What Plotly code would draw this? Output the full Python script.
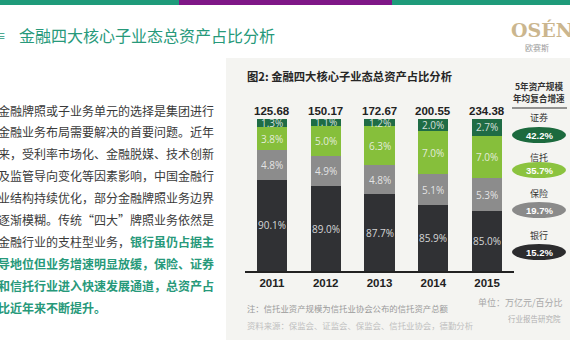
import plotly.graph_objects as go

# ---------------- data ----------------
years = ["2011", "2012", "2013", "2014", "2015"]
bank = [90.1, 89.0, 87.7, 85.9, 85.0]          # 银行
insurance = [4.8, 4.9, 4.8, 5.1, 5.3]          # 保险
trust = [3.8, 5.0, 6.3, 7.0, 7.0]              # 信托
securities = [1.3, 1.1, 1.2, 2.0, 2.7]         # 证券
totals = [125.68, 150.17, 172.67, 200.55, 234.38]  # 万亿元
cagr_names = ["证券", "信托", "保险", "银行"]
cagr_values = [42.2, 35.7, 19.7, 15.2]

body_lines = [
    "金融牌照或子业务单元的选择是集团进行",
    "金融业务布局需要解决的首要问题。近年",
    "来，受利率市场化、金融脱媒、技术创新",
    "及监管导向变化等因素影响，中国金融行",
    "业结构持续优化，部分金融牌照业务边界",
    "逐渐模糊。传统“四大”牌照业务依然是",
    "金融行业的支柱型业务，",
]
highlight_lines = [
    "银行虽仍占据主",
    "导地位但业务增速明显放缓，保险、证券",
    "和信托行业进入快速发展通道，总资产占",
    "比近年来不断提升。",
]

# ---------------- layout helpers ----------------
W, H = 570, 360
L, R, T, B = 245, 56, 119, 89
PW = W - L - R
PH = H - T - B


def fx(x):
    return (x - L) / PW


def fy(y):
    return (H - B - y) / PH


Y_MIN = 75.2
CJK = "Noto Sans CJK SC"
GREEN = "#27997a"
C_SEC, C_TRUST, C_INS, C_BANK = "#1f6c45", "#86bf3b", "#8c8c8c", "#303134"

fig = go.Figure()
series = [("银行", bank, C_BANK), ("保险", insurance, C_INS),
          ("信托", trust, C_TRUST), ("证券", securities, C_SEC)]
for name, vals, col in series:
    fig.add_bar(x=years, y=vals, name=name, marker_color=col,
                marker_line_width=0, hoverinfo="skip")

ann = []
# segment labels
for i, yr in enumerate(years):
    base = 0.0
    for name, vals, col in series:
        v = vals[i]
        lo = max(base, Y_MIN)
        mid = (lo + base + v) / 2
        ann.append(dict(x=i, y=mid, xref="x", yref="y", text=f"{v:.1f}%",
                        showarrow=False,
                        font=dict(size=10, color="rgba(245,245,245,0.85)",
                                  family="Open Sans")))
        base += v
    ann.append(dict(x=i, y=100, xref="x", yref="y", yanchor="bottom",
                    text=f"<b>{totals[i]:.2f}</b>", showarrow=False, yshift=0,
                    font=dict(size=11.5, color="#222", family="Liberation Sans")))

# slide title
ann.append(dict(x=fx(17), y=fy(35), xref="paper", yref="paper", xanchor="left",
                yanchor="middle", text="金融四大核心子业态总资产占比分析",
                showarrow=False, font=dict(size=16, color=GREEN, family=CJK)))
ann.append(dict(x=fx(-8), y=fy(35), xref="paper", yref="paper", xanchor="left",
                yanchor="middle", text="≡", showarrow=False,
                font=dict(size=12, color=GREEN, family=CJK)))
# logo
ann.append(dict(x=fx(509), y=fy(30), xref="paper", yref="paper", xanchor="left",
                yanchor="middle", text="<b>OSÉN</b>", showarrow=False,
                font=dict(size=19, color="#cbb68e", family="DejaVu Serif")))
ann.append(dict(x=fx(537), y=fy(47), xref="paper", yref="paper", xanchor="center",
                yanchor="middle", text="欧赛斯", showarrow=False,
                font=dict(size=8, color="#9a9a9a", family=CJK)))

# left body text
line_y = [110 + 21.9 * k for k in range(10)]
texts = body_lines[:6] + [
    body_lines[6] + f"<span style='color:{GREEN}'><b>{highlight_lines[0]}</b></span>"
] + [f"<span style='color:{GREEN}'><b>{t}</b></span>" for t in highlight_lines[1:]]
for t, yy in zip(texts, line_y):
    ann.append(dict(x=fx(-4), y=fy(yy), xref="paper", yref="paper", xanchor="left",
                    yanchor="middle", text=t, showarrow=False,
                    font=dict(size=12, color="#3a3a3a", family=CJK)))

# chart subtitle
ann.append(dict(x=fx(245), y=fy(76), xref="paper", yref="paper", xanchor="left",
                yanchor="middle", text="<b>图2: 金融四大核心子业态总资产占比分析</b>",
                showarrow=False, font=dict(size=11.3, color="#262626", family=CJK)))
# notes
ann.append(dict(x=fx(245), y=fy(308), xref="paper", yref="paper", xanchor="left",
                yanchor="middle", text="注：信托业资产规模为信托业协会公布的信托资产总额",
                showarrow=False, font=dict(size=8.4, color="#9a9a9a", family=CJK)))
ann.append(dict(x=fx(245), y=fy(325), xref="paper", yref="paper", xanchor="left",
                yanchor="middle", text="资料来源：保监会、证监会、保监会、信托业协会，德勤分析",
                showarrow=False, font=dict(size=8.4, color="#c0c0c0", family=CJK)))
ann.append(dict(x=fx(565), y=fy(302), xref="paper", yref="paper", xanchor="right",
                yanchor="middle", text="单位：万亿元/百分比",
                showarrow=False, font=dict(size=9, color="#a8a8a8", family=CJK)))
ann.append(dict(x=fx(563), y=fy(318), xref="paper", yref="paper", xanchor="right",
                yanchor="middle", text="行业报告研究院",
                showarrow=False, font=dict(size=7.5, color="#b0b0b0", family=CJK)))

# right legend
ann.append(dict(x=fx(539), y=fy(86.5), xref="paper", yref="paper", xanchor="center",
                yanchor="middle", text="<b>5年资产规模</b>", showarrow=False,
                font=dict(size=8.6, color="#333", family=CJK)))
ann.append(dict(x=fx(539), y=fy(97.5), xref="paper", yref="paper", xanchor="center",
                yanchor="middle", text="<b>年均复合增速</b>", showarrow=False,
                font=dict(size=8.6, color="#333", family=CJK)))

shapes = []
# embedded picture background
shapes.append(dict(type="rect", xref="paper", yref="paper", x0=fx(226), x1=fx(572),
                   y0=fy(58), y1=fy(340), fillcolor="#f4f4f1", line_width=0,
                   layer="below"))
# top band
for x0, x1, c in [(0, 179, "#1f9b7a"), (179, 392, "#7f1787"), (392, 572, "#1f9b7a")]:
    shapes.append(dict(type="rect", xref="paper", yref="paper", x0=fx(x0), x1=fx(x1),
                       y0=fy(0), y1=fy(5), fillcolor=c, line_width=0))
shapes.append(dict(type="line", xref="paper", yref="paper", x0=fx(512), x1=fx(567),
                   y0=fy(108), y1=fy(108), line=dict(color="#333", width=1.2)))

legend_y = [(117, 135), (157, 170), (193, 210), (235, 252)]
ell_cols = ["#1c6a3e", "#8bc33f", "#8a8a8a", "#2c2c2e"]
for name, val, col, (ly, ey) in zip(cagr_names, cagr_values, ell_cols, legend_y):
    ann.append(dict(x=fx(539), y=fy(ly), xref="paper", yref="paper", xanchor="center",
                    yanchor="middle", text=name, showarrow=False,
                    font=dict(size=9, color="#333", family=CJK)))
    shapes.append(dict(type="circle", xref="paper", yref="paper", x0=fx(512),
                       x1=fx(566), y0=fy(ey + 8), y1=fy(ey - 8), fillcolor=col,
                       line_width=0))
    ann.append(dict(x=fx(539), y=fy(ey), xref="paper", yref="paper", xanchor="center",
                    yanchor="middle", text=f"<b>{val:.1f}%</b>", showarrow=False,
                    font=dict(size=9.5, color="white", family="Liberation Sans")))

fig.update_layout(
    width=W, height=H, barmode="stack", bargap=0.44, showlegend=False,
    margin=dict(l=L, r=R, t=T, b=B, pad=0),
    paper_bgcolor="white", plot_bgcolor="rgba(0,0,0,0)",
    annotations=ann, shapes=shapes,
    xaxis=dict(type="category", showline=True, linecolor="#222", linewidth=1.5,
               ticks="", showgrid=False,
               tickvals=years, ticktext=[f"<b>{y}</b>" for y in years],
               tickfont=dict(size=11.5, color="#222", family="Liberation Sans"),
               range=[-0.5, 4.5]),
    yaxis=dict(range=[Y_MIN, 100], visible=False, showgrid=False),
)

fig.write_html("out.html", config={"displayModeBar": False},
               post_script="document.body.style.margin='0';document.body.style.padding='0';")
